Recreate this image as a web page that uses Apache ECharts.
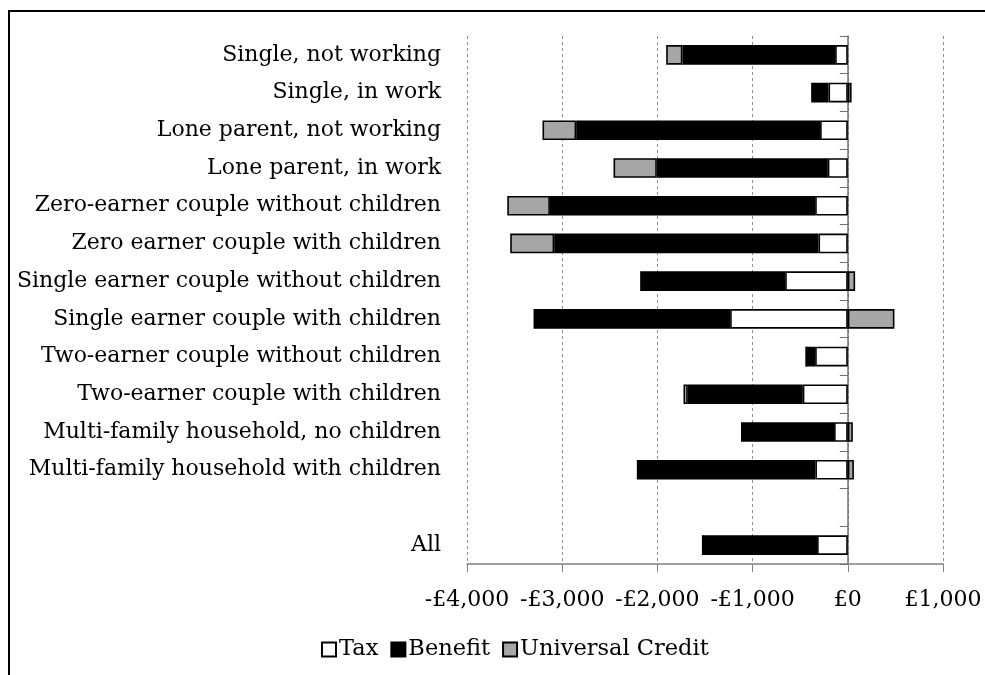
<!DOCTYPE html>
<html>
<head>
<meta charset="utf-8">
<script src="https://cdn.jsdelivr.net/npm/echarts@6/dist/echarts.min.js"></script>
<style>
html,body{margin:0;padding:0;background:#fff;}
#chart{width:985px;height:675px;}
</style>
</head>
<body>
<div id="chart"></div>
<script>
var categories = ['Single, not working', 'Single, in work', 'Lone parent, not working', 'Lone parent, in work',
  'Zero-earner couple without children', 'Zero earner couple with children',
  'Single earner couple without children', 'Single earner couple with children',
  'Two-earner couple without children', 'Two-earner couple with children',
  'Multi-family household, no children', 'Multi-family household with children', '', 'All'];
var tax = [-133, -203, -291, -210, -343, -308, -658, -1236, -343, -473, -144, -341, null, -323];
var benefit = [-1604, -182, -2562, -1796, -2786, -2776, -1523, -2065, -95, -1207, -978, -1875, null, -1201];
var universalCredit = [-171, 40, -354, -455, -448, -462, 77, 490, 0, -46, 53, 64, null, 0];
var xTicks = {min: -4000, max: 1000, interval: 1000};

var FONT = 'DejaVu Serif';
var chart = echarts.init(document.getElementById('chart'));
function fmt(v){
  var a = Math.abs(v);
  var s = a.toString().replace(/\B(?=(\d{3})+(?!\d))/g, ',');
  return (v < 0 ? '-' : '') + '£' + s;
}
var barStyle = function(color){
  return {color: color, borderColor: '#000', borderWidth: 1.6};
};
chart.setOption({
  animation: false,
  backgroundColor: '#fff',
  textStyle: {fontFamily: FONT},
  graphic: [{
    type: 'polyline',
    shape: {points: [[9, 700], [9, 11], [1000, 11]]},
    style: {stroke: '#000', lineWidth: 2, fill: null},
    silent: true
  }],
  legend: {
    bottom: 9,
    left: 316,
    icon: 'rect',
    itemWidth: 14,
    itemHeight: 14,
    itemGap: 12,
    textStyle: {fontFamily: FONT, fontSize: 22.5, color: '#000', padding: [0, 0, 0, -2]},
    data: ['Tax', 'Benefit', 'Universal Credit']
  },
  grid: {left: 467, right: 42, top: 36, bottom: 111, containLabel: false},
  xAxis: {
    type: 'value',
    min: xTicks.min, max: xTicks.max, interval: xTicks.interval,
    axisLine: {show: true, onZero: false, lineStyle: {color: '#808080', width: 1.5}},
    axisTick: {show: true, length: 8, lineStyle: {color: '#808080'}},
    axisLabel: {formatter: fmt, fontFamily: FONT, fontSize: 22, color: '#000', margin: 25},
    splitLine: {show: true, lineStyle: {color: '#909090', type: [3, 3], width: 1}}
  },
  yAxis: [{
    type: 'category',
    data: categories,
    inverse: true,
    axisLine: {show: false, onZero: false},
    axisTick: {show: false},
    axisLabel: {fontFamily: FONT, fontSize: 22, color: '#000', margin: 26}
  }, {
    type: 'category',
    data: categories,
    inverse: true,
    position: 'left',
    axisLine: {show: true, onZero: true, lineStyle: {color: '#707070', width: 1.5}},
    axisTick: {show: true, length: 8, lineStyle: {color: '#707070'}},
    axisLabel: {show: false},
    splitLine: {show: false}
  }],
  series: [{
    name: 'Tax', type: 'bar', stack: 'total', data: tax, barWidth: '52%',
    itemStyle: barStyle('#ffffff'), z: 3
  }, {
    name: 'Benefit', type: 'bar', stack: 'total', data: benefit, barWidth: '52%',
    itemStyle: barStyle('#000000'), z: 3
  }, {
    name: 'Universal Credit', type: 'bar', stack: 'total', data: universalCredit, barWidth: '52%',
    itemStyle: barStyle('#a6a6a6'), z: 3
  }]
});
</script>
</body>
</html>
